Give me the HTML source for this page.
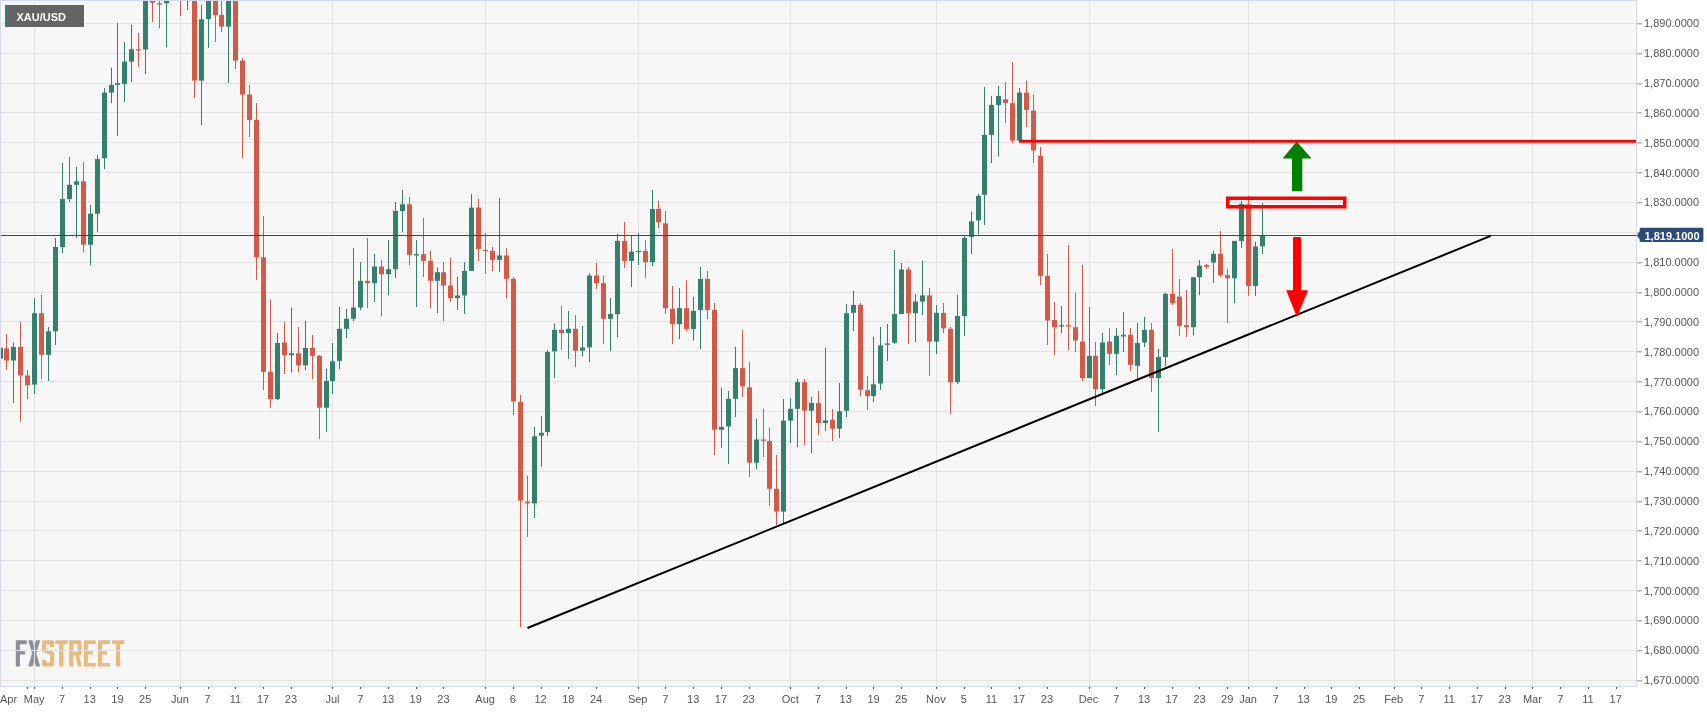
<!DOCTYPE html>
<html><head><meta charset="utf-8"><style>
html,body{margin:0;padding:0;background:#fff;}
body{width:1707px;height:712px;overflow:hidden;position:relative;font-family:"Liberation Sans",sans-serif;}
svg{position:absolute;left:0;top:0;display:block;will-change:transform}
svg text{font-family:"Liberation Sans",sans-serif;}
</style></head><body>
<svg width="1707" height="712" viewBox="0 0 1707 712" shape-rendering="crispEdges">
<rect x="0" y="0" width="1707" height="712" fill="#ffffff"/>
<rect x="0" y="0" width="1637" height="687" fill="#f7f7f7"/>

<g shape-rendering="auto">
<path fill="#8c909b" d="M15.8 640.3H26.8V644.2H19.9V651.2H24.9V654.6H19.9V666.4H15.8Z"/>
<path fill="#8c909b" d="M28.2 640.3H32.5L40.2 666.4H35.9Z M35.9 640.3H40.2L32.5 666.4H28.2Z"/>
<path fill="none" stroke="#ecb97d" stroke-width="4.1" stroke-linejoin="round" d="M52.05 647V642.35H43.95V650L52.05 653.3V664.45H43.95V659.9"/>
<path fill="#ecb97d" d="M55.3 640.3H67.7V643.9H63.4V666.4H59.1V643.9H55.3Z"/>
<path fill="#ecb97d" fill-rule="evenodd" d="M69.1 640.2H79Q81.7 640.2 81.7 643V652.6Q81.7 655.4 79 655.4L81.7 666.5H77.9L75.5 655.4H73.2V666.5H69.1Z M73.2 644H77.5V651.8H73.2Z"/>
<path fill="#ecb97d" d="M83.8 640.3H95.8V643.9H87.9V651.3H92.9V654.6H87.9V663H95.8V666.4H83.8Z"/>
<path fill="#ecb97d" d="M97.9 640.3H110.1V643.9H102.1V651.3H107V654.6H102.1V663H110.1V666.4H97.9Z"/>
<path fill="#ecb97d" d="M112 640.3H124.4V643.9H120.1V666.4H116V643.9H112Z"/>
</g>
<path d="M1 23.5H1636 M1 53.5H1636 M1 83.5H1636 M1 112.5H1636 M1 142.5H1636 M1 172.5H1636 M1 202.5H1636 M1 232.5H1636 M1 262.5H1636 M1 292.5H1636 M1 321.5H1636 M1 351.5H1636 M1 381.5H1636 M1 411.5H1636 M1 441.5H1636 M1 471.5H1636 M1 501.5H1636 M1 530.5H1636 M1 560.5H1636 M1 590.5H1636 M1 620.5H1636 M1 650.5H1636 M1 680.5H1636" stroke="#e3e3e3" stroke-width="1" fill="none"/>
<path d="M34.5 1V686 M180.5 1V686 M332.5 1V686 M485.5 1V686 M638.5 1V686 M790.5 1V686 M936.5 1V686 M1089.5 1V686 M1248.5 1V686 M1394.5 1V686 M1532.5 1V686" stroke="#e3e3e3" stroke-width="1" fill="none"/>
<path d="M0.5 0V686.5H1636.5V0" stroke="#d3d9ea" fill="none"/>
<path d="M0 0.5H1637" stroke="#d3d9ea" fill="none"/>
<path d="M0.5 341.0V385.3 M13.5 343.0V403.0 M34.5 297.5V393.6 M48.5 327.3V380.5 M55.5 238.0V345.4 M62.5 162.5V253.0 M69.5 156.5V202.4 M76.5 167.1V238.0 M90.5 204.7V264.6 M97.5 154.8V232.3 M104.5 88.3V169.1 M111.5 68.3V103.2 M117.5 23.2V135.8 M124.5 41.7V101.6 M131.5 25.3V81.6 M145.5 0.0V74.0 M166.5 0.0V46.6 M187.5 0.0V10.0 M201.5 5.0V124.8 M208.5 0.0V48.3 M228.5 0.0V83.2 M277.5 332.5V400.0 M291.5 307.5V371.5 M305.5 320.8V369.7 M326.5 368.6V431.5 M332.5 343.1V394.1 M339.5 306.5V368.6 M346.5 308.8V338.0 M353.5 247.6V320.8 M360.5 262.2V309.8 M374.5 254.2V301.5 M388.5 240.0V294.8 M395.5 202.3V278.2 M402.5 190.0V231.6 M416.5 240.0V306.5 M437.5 267.5V313.0 M457.5 276.5V309.8 M464.5 262.2V314.1 M471.5 194.3V270.9 M499.5 197.6V272.2 M534.5 426.9V518.2 M541.5 416.3V466.5 M547.5 350.0V435.6 M554.5 324.0V378.0 M568.5 310.8V358.7 M582.5 326.4V356.4 M589.5 273.2V362.0 M610.5 297.5V350.7 M617.5 234.3V337.4 M631.5 234.9V286.5 M638.5 233.3V264.9 M652.5 190.0V265.5 M679.5 288.3V338.9 M693.5 296.6V339.9 M700.5 266.6V348.8 M721.5 388.1V448.0 M728.5 390.8V464.0 M735.5 346.5V417.4 M756.5 418.7V469.0 M783.5 398.8V522.8 M790.5 398.1V443.0 M797.5 378.8V447.3 M811.5 397.4V453.0 M825.5 347.5V430.7 M839.5 383.1V438.0 M846.5 304.3V417.4 M853.5 290.5V331.2 M873.5 336.8V402.2 M880.5 326.7V390.2 M887.5 323.5V360.8 M894.5 250.0V343.5 M901.5 262.6V314.1 M915.5 294.1V341.6 M922.5 260.7V314.9 M936.5 304.8V354.2 M957.5 295.4V384.3 M964.5 236.4V336.3 M971.5 212.4V253.7 M978.5 193.8V233.7 M984.5 87.3V224.7 M991.5 95.9V162.5 M998.5 86.0V155.8 M1019.5 88.3V143.2 M1061.5 305.9V333.2 M1089.5 307.2V378.1 M1102.5 333.2V393.1 M1116.5 328.2V374.8 M1123.5 311.5V351.5 M1137.5 323.2V379.1 M1144.5 317.2V346.5 M1158.5 349.1V432.3 M1165.5 293.2V365.8 M1193.5 276.6V334.8 M1199.5 259.5V295.0 M1213.5 251.0V283.1 M1234.5 240.6V303.0 M1241.5 201.2V248.0 M1255.5 241.8V295.7 M1262.5 203.1V253.6" stroke="#33806c" stroke-width="1" fill="none"/>
<path d="M6.5 334.0V370.0 M20.5 321.5V422.0 M27.5 370.0V398.8 M41.5 294.5V378.5 M83.5 161.5V252.3 M138.5 32.7V67.3 M152.5 0.0V21.6 M159.5 0.0V28.3 M180.5 0.0V16.0 M194.5 0.0V98.2 M215.5 0.0V41.6 M221.5 0.0V31.6 M235.5 0.0V69.2 M242.5 58.3V158.0 M249.5 85.0V137.0 M256.5 102.5V280.3 M263.5 216.4V389.5 M270.5 300.2V408.4 M284.5 321.7V374.0 M298.5 327.0V372.0 M312.5 334.7V379.4 M319.5 354.7V438.6 M367.5 237.6V308.0 M381.5 259.9V316.4 M409.5 196.6V264.9 M423.5 217.6V276.5 M430.5 250.9V307.5 M443.5 261.5V321.4 M450.5 257.5V302.1 M478.5 198.5V261.0 M485.5 233.3V274.2 M492.5 246.6V270.9 M506.5 247.6V298.1 M513.5 276.5V415.3 M520.5 395.3V627.0 M527.5 476.0V536.8 M561.5 305.5V349.7 M575.5 314.8V367.4 M596.5 263.2V288.8 M603.5 275.5V344.0 M624.5 222.3V268.2 M645.5 239.9V277.5 M658.5 201.0V227.6 M665.5 211.0V314.2 M672.5 285.6V344.2 M686.5 280.0V330.9 M707.5 271.0V318.9 M714.5 303.3V455.3 M742.5 329.9V397.4 M749.5 361.5V477.2 M763.5 408.5V456.5 M769.5 427.5V506.0 M776.5 454.5V524.8 M804.5 378.8V445.3 M818.5 390.8V434.7 M832.5 408.7V440.7 M860.5 302.6V396.1 M867.5 375.5V410.2 M908.5 267.4V344.3 M929.5 288.2V375.5 M943.5 302.6V332.8 M950.5 326.7V414.2 M1005.5 81.6V122.5 M1012.5 61.6V143.2 M1026.5 80.6V127.2 M1033.5 94.9V162.5 M1040.5 146.5V284.9 M1047.5 254.3V345.0 M1054.5 301.5V354.8 M1068.5 245.0V349.8 M1075.5 293.2V351.5 M1082.5 264.9V381.4 M1095.5 341.5V405.7 M1109.5 328.2V364.8 M1130.5 328.2V371.4 M1151.5 323.2V392.4 M1172.5 249.3V304.9 M1179.5 279.3V335.8 M1186.5 289.9V337.2 M1206.5 263.5V269.2 M1220.5 231.4V276.6 M1227.5 268.5V323.2 M1248.5 196.2V295.7" stroke="#d45a47" stroke-width="1" fill="none"/>
<g fill="#33806c" shape-rendering="auto"><rect x="-2" y="348.0" width="5" height="10.6"/><rect x="11" y="347.0" width="5" height="13.5"/><rect x="32" y="313.2" width="5" height="71.4"/><rect x="46" y="331.3" width="5" height="23.5"/><rect x="53" y="247.0" width="5" height="84.3"/><rect x="60" y="199.1" width="5" height="47.9"/><rect x="67" y="184.8" width="5" height="14.3"/><rect x="74" y="181.4" width="5" height="3.4"/><rect x="88" y="213.7" width="5" height="31.0"/><rect x="95" y="159.1" width="5" height="54.6"/><rect x="102" y="92.6" width="5" height="65.5"/><rect x="109" y="84.9" width="5" height="7.7"/><rect x="115" y="83.3" width="5" height="1.6"/><rect x="122" y="61.6" width="5" height="22.3"/><rect x="129" y="49.3" width="5" height="12.3"/><rect x="143" y="0.0" width="5" height="49.5"/><rect x="164" y="0.0" width="5" height="3.3"/><rect x="199" y="19.3" width="5" height="61.3"/><rect x="206" y="0.0" width="5" height="19.0"/><rect x="226" y="0.0" width="5" height="26.6"/><rect x="275" y="342.9" width="5" height="56.1"/><rect x="289" y="353.3" width="5" height="2.0"/><rect x="303" y="348.0" width="5" height="17.3"/><rect x="324" y="381.0" width="5" height="26.7"/><rect x="330" y="361.3" width="5" height="19.7"/><rect x="337" y="328.8" width="5" height="32.1"/><rect x="344" y="318.8" width="5" height="10.0"/><rect x="351" y="307.5" width="5" height="11.3"/><rect x="358" y="280.8" width="5" height="26.7"/><rect x="372" y="266.5" width="5" height="16.7"/><rect x="386" y="269.2" width="5" height="5.0"/><rect x="393" y="211.0" width="5" height="58.2"/><rect x="400" y="204.3" width="5" height="6.7"/><rect x="414" y="254.2" width="5" height="1.3"/><rect x="435" y="272.2" width="5" height="8.6"/><rect x="455" y="295.5" width="5" height="2.6"/><rect x="462" y="270.9" width="5" height="24.6"/><rect x="469" y="207.6" width="5" height="63.3"/><rect x="497" y="255.5" width="5" height="4.4"/><rect x="532" y="436.3" width="5" height="67.1"/><rect x="539" y="432.8" width="5" height="2.8"/><rect x="545" y="352.0" width="5" height="80.1"/><rect x="552" y="329.8" width="5" height="21.6"/><rect x="566" y="328.8" width="5" height="4.2"/><rect x="580" y="347.4" width="5" height="3.3"/><rect x="587" y="275.5" width="5" height="71.9"/><rect x="608" y="314.0" width="5" height="4.8"/><rect x="615" y="240.9" width="5" height="73.1"/><rect x="629" y="251.6" width="5" height="9.3"/><rect x="636" y="250.9" width="5" height="1.2"/><rect x="650" y="209.0" width="5" height="53.2"/><rect x="677" y="308.2" width="5" height="16.0"/><rect x="691" y="310.9" width="5" height="18.0"/><rect x="698" y="279.0" width="5" height="30.9"/><rect x="719" y="427.0" width="5" height="2.7"/><rect x="726" y="398.8" width="5" height="27.6"/><rect x="733" y="368.1" width="5" height="30.7"/><rect x="754" y="439.5" width="5" height="23.2"/><rect x="781" y="420.6" width="5" height="91.0"/><rect x="788" y="408.8" width="5" height="11.8"/><rect x="795" y="382.1" width="5" height="26.7"/><rect x="809" y="403.1" width="5" height="7.6"/><rect x="823" y="420.4" width="5" height="2.6"/><rect x="837" y="411.4" width="5" height="17.3"/><rect x="844" y="313.2" width="5" height="97.5"/><rect x="851" y="304.9" width="5" height="7.9"/><rect x="871" y="384.3" width="5" height="11.8"/><rect x="878" y="345.4" width="5" height="38.1"/><rect x="885" y="343.5" width="5" height="1.3"/><rect x="892" y="314.1" width="5" height="28.6"/><rect x="899" y="269.5" width="5" height="44.6"/><rect x="913" y="301.6" width="5" height="11.7"/><rect x="920" y="295.4" width="5" height="6.2"/><rect x="934" y="312.8" width="5" height="28.8"/><rect x="955" y="316.0" width="5" height="66.2"/><rect x="962" y="238.0" width="5" height="78.0"/><rect x="969" y="221.4" width="5" height="15.6"/><rect x="976" y="195.8" width="5" height="24.6"/><rect x="982" y="134.9" width="5" height="59.9"/><rect x="989" y="104.9" width="5" height="30.0"/><rect x="996" y="95.9" width="5" height="9.0"/><rect x="1017" y="92.6" width="5" height="47.9"/><rect x="1059" y="325.2" width="5" height="1.3"/><rect x="1087" y="355.8" width="5" height="22.3"/><rect x="1100" y="342.5" width="5" height="46.6"/><rect x="1114" y="335.8" width="5" height="18.0"/><rect x="1121" y="334.8" width="5" height="1.7"/><rect x="1135" y="343.1" width="5" height="22.7"/><rect x="1142" y="329.8" width="5" height="12.7"/><rect x="1156" y="357.1" width="5" height="21.0"/><rect x="1163" y="293.9" width="5" height="63.2"/><rect x="1191" y="277.3" width="5" height="49.9"/><rect x="1197" y="265.6" width="5" height="11.4"/><rect x="1211" y="253.8" width="5" height="8.7"/><rect x="1232" y="240.9" width="5" height="37.4"/><rect x="1239" y="204.0" width="5" height="36.9"/><rect x="1253" y="246.5" width="5" height="39.4"/><rect x="1260" y="235.5" width="5" height="10.8"/></g>
<g fill="#d45a47" shape-rendering="auto"><rect x="4" y="348.5" width="5" height="12.0"/><rect x="18" y="347.0" width="5" height="28.5"/><rect x="25" y="375.5" width="5" height="9.5"/><rect x="39" y="313.2" width="5" height="41.6"/><rect x="81" y="181.4" width="5" height="63.3"/><rect x="136" y="49.3" width="5" height="1.3"/><rect x="150" y="0.0" width="5" height="2.7"/><rect x="157" y="3.3" width="5" height="1.4"/><rect x="192" y="0.0" width="5" height="80.6"/><rect x="213" y="0.0" width="5" height="15.0"/><rect x="219" y="15.0" width="5" height="11.6"/><rect x="233" y="0.0" width="5" height="60.6"/><rect x="240" y="60.6" width="5" height="33.9"/><rect x="247" y="94.5" width="5" height="25.5"/><rect x="254" y="120.0" width="5" height="137.3"/><rect x="261" y="257.3" width="5" height="114.5"/><rect x="268" y="371.8" width="5" height="27.2"/><rect x="282" y="342.5" width="5" height="12.8"/><rect x="296" y="353.3" width="5" height="12.0"/><rect x="310" y="348.0" width="5" height="7.8"/><rect x="317" y="355.8" width="5" height="51.9"/><rect x="365" y="280.8" width="5" height="2.4"/><rect x="379" y="266.5" width="5" height="7.7"/><rect x="407" y="204.3" width="5" height="50.6"/><rect x="421" y="254.2" width="5" height="6.7"/><rect x="428" y="260.9" width="5" height="19.9"/><rect x="441" y="272.2" width="5" height="13.3"/><rect x="448" y="285.5" width="5" height="12.6"/><rect x="476" y="207.6" width="5" height="41.3"/><rect x="483" y="249.9" width="5" height="1.2"/><rect x="490" y="250.9" width="5" height="9.0"/><rect x="504" y="255.5" width="5" height="23.3"/><rect x="511" y="278.8" width="5" height="122.7"/><rect x="518" y="402.0" width="5" height="98.6"/><rect x="525" y="501.7" width="5" height="1.7"/><rect x="559" y="329.8" width="5" height="3.2"/><rect x="573" y="328.8" width="5" height="21.9"/><rect x="594" y="275.5" width="5" height="7.7"/><rect x="601" y="283.2" width="5" height="35.6"/><rect x="622" y="240.9" width="5" height="20.0"/><rect x="643" y="250.9" width="5" height="11.3"/><rect x="656" y="209.0" width="5" height="13.3"/><rect x="663" y="223.3" width="5" height="84.9"/><rect x="670" y="308.9" width="5" height="15.3"/><rect x="684" y="308.2" width="5" height="20.7"/><rect x="705" y="279.0" width="5" height="30.9"/><rect x="712" y="309.9" width="5" height="119.8"/><rect x="740" y="368.1" width="5" height="18.3"/><rect x="747" y="387.4" width="5" height="75.3"/><rect x="761" y="439.5" width="5" height="1.4"/><rect x="767" y="440.9" width="5" height="47.9"/><rect x="774" y="488.8" width="5" height="22.8"/><rect x="802" y="382.1" width="5" height="28.6"/><rect x="816" y="403.1" width="5" height="19.9"/><rect x="830" y="419.7" width="5" height="9.0"/><rect x="858" y="304.9" width="5" height="84.8"/><rect x="865" y="390.2" width="5" height="5.9"/><rect x="906" y="269.5" width="5" height="43.8"/><rect x="927" y="295.4" width="5" height="46.2"/><rect x="941" y="312.8" width="5" height="15.5"/><rect x="948" y="328.8" width="5" height="53.4"/><rect x="1003" y="99.3" width="5" height="3.9"/><rect x="1010" y="103.2" width="5" height="37.3"/><rect x="1024" y="92.6" width="5" height="17.3"/><rect x="1031" y="110.6" width="5" height="39.9"/><rect x="1038" y="155.8" width="5" height="120.0"/><rect x="1045" y="275.8" width="5" height="44.7"/><rect x="1052" y="319.9" width="5" height="7.3"/><rect x="1066" y="325.2" width="5" height="1.3"/><rect x="1073" y="327.2" width="5" height="13.3"/><rect x="1080" y="341.5" width="5" height="36.6"/><rect x="1093" y="355.8" width="5" height="33.3"/><rect x="1107" y="341.5" width="5" height="12.3"/><rect x="1128" y="334.8" width="5" height="30.0"/><rect x="1149" y="329.8" width="5" height="48.3"/><rect x="1170" y="293.9" width="5" height="9.3"/><rect x="1177" y="296.6" width="5" height="29.2"/><rect x="1184" y="325.2" width="5" height="2.0"/><rect x="1204" y="265.0" width="5" height="1.8"/><rect x="1218" y="253.8" width="5" height="21.4"/><rect x="1225" y="275.2" width="5" height="3.1"/><rect x="1246" y="204.2" width="5" height="81.7"/></g>
<path d="M1 235.5H1636" stroke="#2c4a75" stroke-width="1.2" fill="none"/>
<line x1="527.5" y1="628" x2="1490.7" y2="235.9" stroke="#000" stroke-width="2" shape-rendering="auto"/>
<path d="M1293 238Q1293 237 1294 237H1300Q1301 237 1301 238V290.3H1308L1297 317.2L1286.2 290.3H1293Z" fill="#ff0000" shape-rendering="auto"/>
<polygon points="1296.7,141.5 1311.5,158.6 1302.3,158.6 1302.3,191.2 1292,191.2 1292,158.6 1282.6,158.6" fill="#008000" shape-rendering="auto"/>
<rect x="1019" y="139.8" width="617" height="2.9" fill="#ff0000" shape-rendering="auto"/>
<rect x="1227.75" y="198.25" width="117" height="8.5" fill="none" stroke="#ff0000" stroke-width="3.5" shape-rendering="auto"/>
<path d="M0 0.5H1637M0.5 0V686" stroke="#d3d9ea" fill="none"/>
<path d="M1637 23.8H1642 M1637 53.8H1642 M1637 83.8H1642 M1637 112.8H1642 M1637 142.8H1642 M1637 172.8H1642 M1637 202.8H1642 M1637 232.8H1642 M1637 262.8H1642 M1637 292.8H1642 M1637 321.8H1642 M1637 351.8H1642 M1637 381.8H1642 M1637 411.8H1642 M1637 441.8H1642 M1637 471.8H1642 M1637 501.8H1642 M1637 530.8H1642 M1637 560.8H1642 M1637 590.8H1642 M1637 620.8H1642 M1637 650.8H1642 M1637 680.8H1642" stroke="#b4b4b4" stroke-width="1.5" fill="none" shape-rendering="auto"/>
<text x="1644" y="27.20" font-size="11" fill="#555555">1,890.0000</text>
<text x="1644" y="57.06" font-size="11" fill="#555555">1,880.0000</text>
<text x="1644" y="86.92" font-size="11" fill="#555555">1,870.0000</text>
<text x="1644" y="116.78" font-size="11" fill="#555555">1,860.0000</text>
<text x="1644" y="146.64" font-size="11" fill="#555555">1,850.0000</text>
<text x="1644" y="176.50" font-size="11" fill="#555555">1,840.0000</text>
<text x="1644" y="206.36" font-size="11" fill="#555555">1,830.0000</text>
<text x="1644" y="236.22" font-size="11" fill="#555555">1,820.0000</text>
<text x="1644" y="266.08" font-size="11" fill="#555555">1,810.0000</text>
<text x="1644" y="295.94" font-size="11" fill="#555555">1,800.0000</text>
<text x="1644" y="325.80" font-size="11" fill="#555555">1,790.0000</text>
<text x="1644" y="355.66" font-size="11" fill="#555555">1,780.0000</text>
<text x="1644" y="385.52" font-size="11" fill="#555555">1,770.0000</text>
<text x="1644" y="415.38" font-size="11" fill="#555555">1,760.0000</text>
<text x="1644" y="445.24" font-size="11" fill="#555555">1,750.0000</text>
<text x="1644" y="475.10" font-size="11" fill="#555555">1,740.0000</text>
<text x="1644" y="504.96" font-size="11" fill="#555555">1,730.0000</text>
<text x="1644" y="534.82" font-size="11" fill="#555555">1,720.0000</text>
<text x="1644" y="564.68" font-size="11" fill="#555555">1,710.0000</text>
<text x="1644" y="594.54" font-size="11" fill="#555555">1,700.0000</text>
<text x="1644" y="624.40" font-size="11" fill="#555555">1,690.0000</text>
<text x="1644" y="654.26" font-size="11" fill="#555555">1,680.0000</text>
<text x="1644" y="684.12" font-size="11" fill="#555555">1,670.0000</text>
<path d="M27.5 687V689 M34.5 687V689 M62.5 687V689 M90.5 687V689 M117.5 687V689 M145.5 687V689 M180.5 687V689 M208.5 687V689 M235.5 687V689 M263.5 687V689 M291.5 687V689 M332.5 687V689 M360.5 687V689 M388.5 687V689 M416.5 687V689 M443.5 687V689 M485.5 687V689 M513.5 687V689 M541.5 687V689 M568.5 687V689 M596.5 687V689 M638.5 687V689 M665.5 687V689 M693.5 687V689 M721.5 687V689 M749.5 687V689 M790.5 687V689 M818.5 687V689 M846.5 687V689 M873.5 687V689 M901.5 687V689 M936.5 687V689 M964.5 687V689 M991.5 687V689 M1019.5 687V689 M1047.5 687V689 M1089.5 687V689 M1116.5 687V689 M1144.5 687V689 M1172.5 687V689 M1199.5 687V689 M1227.5 687V689 M1248.5 687V689 M1276.5 687V689 M1304.5 687V689 M1331.5 687V689 M1359.5 687V689 M1394.5 687V689 M1421.5 687V689 M1449.5 687V689 M1477.5 687V689 M1505.5 687V689 M1532.5 687V689 M1560.5 687V689 M1588.5 687V689 M1616.5 687V689" stroke="#555" fill="none"/>
<text x="0" y="703" font-size="11" fill="#555555">Apr</text>
<text x="34.2" y="703" font-size="11" fill="#555555" text-anchor="middle">May</text>
<text x="62.0" y="703" font-size="11" fill="#555555" text-anchor="middle">7</text>
<text x="89.7" y="703" font-size="11" fill="#555555" text-anchor="middle">13</text>
<text x="117.4" y="703" font-size="11" fill="#555555" text-anchor="middle">19</text>
<text x="145.2" y="703" font-size="11" fill="#555555" text-anchor="middle">25</text>
<text x="179.9" y="703" font-size="11" fill="#555555" text-anchor="middle">Jun</text>
<text x="207.6" y="703" font-size="11" fill="#555555" text-anchor="middle">7</text>
<text x="235.4" y="703" font-size="11" fill="#555555" text-anchor="middle">11</text>
<text x="263.1" y="703" font-size="11" fill="#555555" text-anchor="middle">17</text>
<text x="290.9" y="703" font-size="11" fill="#555555" text-anchor="middle">23</text>
<text x="332.5" y="703" font-size="11" fill="#555555" text-anchor="middle">Jul</text>
<text x="360.2" y="703" font-size="11" fill="#555555" text-anchor="middle">7</text>
<text x="388.0" y="703" font-size="11" fill="#555555" text-anchor="middle">13</text>
<text x="415.7" y="703" font-size="11" fill="#555555" text-anchor="middle">19</text>
<text x="443.4" y="703" font-size="11" fill="#555555" text-anchor="middle">23</text>
<text x="485.1" y="703" font-size="11" fill="#555555" text-anchor="middle">Aug</text>
<text x="512.8" y="703" font-size="11" fill="#555555" text-anchor="middle">6</text>
<text x="540.6" y="703" font-size="11" fill="#555555" text-anchor="middle">12</text>
<text x="568.3" y="703" font-size="11" fill="#555555" text-anchor="middle">18</text>
<text x="596.0" y="703" font-size="11" fill="#555555" text-anchor="middle">24</text>
<text x="637.7" y="703" font-size="11" fill="#555555" text-anchor="middle">Sep</text>
<text x="665.4" y="703" font-size="11" fill="#555555" text-anchor="middle">7</text>
<text x="693.2" y="703" font-size="11" fill="#555555" text-anchor="middle">13</text>
<text x="720.9" y="703" font-size="11" fill="#555555" text-anchor="middle">17</text>
<text x="748.6" y="703" font-size="11" fill="#555555" text-anchor="middle">23</text>
<text x="790.3" y="703" font-size="11" fill="#555555" text-anchor="middle">Oct</text>
<text x="818.0" y="703" font-size="11" fill="#555555" text-anchor="middle">7</text>
<text x="845.7" y="703" font-size="11" fill="#555555" text-anchor="middle">13</text>
<text x="873.5" y="703" font-size="11" fill="#555555" text-anchor="middle">19</text>
<text x="901.2" y="703" font-size="11" fill="#555555" text-anchor="middle">25</text>
<text x="935.9" y="703" font-size="11" fill="#555555" text-anchor="middle">Nov</text>
<text x="963.7" y="703" font-size="11" fill="#555555" text-anchor="middle">5</text>
<text x="991.4" y="703" font-size="11" fill="#555555" text-anchor="middle">11</text>
<text x="1019.1" y="703" font-size="11" fill="#555555" text-anchor="middle">17</text>
<text x="1046.9" y="703" font-size="11" fill="#555555" text-anchor="middle">23</text>
<text x="1088.5" y="703" font-size="11" fill="#555555" text-anchor="middle">Dec</text>
<text x="1116.3" y="703" font-size="11" fill="#555555" text-anchor="middle">7</text>
<text x="1144.0" y="703" font-size="11" fill="#555555" text-anchor="middle">13</text>
<text x="1171.7" y="703" font-size="11" fill="#555555" text-anchor="middle">17</text>
<text x="1199.5" y="703" font-size="11" fill="#555555" text-anchor="middle">23</text>
<text x="1227.2" y="703" font-size="11" fill="#555555" text-anchor="middle">29</text>
<text x="1248.0" y="703" font-size="11" fill="#555555" text-anchor="middle">Jan</text>
<text x="1275.8" y="703" font-size="11" fill="#555555" text-anchor="middle">7</text>
<text x="1303.5" y="703" font-size="11" fill="#555555" text-anchor="middle">13</text>
<text x="1331.3" y="703" font-size="11" fill="#555555" text-anchor="middle">19</text>
<text x="1359.0" y="703" font-size="11" fill="#555555" text-anchor="middle">25</text>
<text x="1393.7" y="703" font-size="11" fill="#555555" text-anchor="middle">Feb</text>
<text x="1421.4" y="703" font-size="11" fill="#555555" text-anchor="middle">7</text>
<text x="1449.2" y="703" font-size="11" fill="#555555" text-anchor="middle">11</text>
<text x="1476.9" y="703" font-size="11" fill="#555555" text-anchor="middle">17</text>
<text x="1504.7" y="703" font-size="11" fill="#555555" text-anchor="middle">23</text>
<text x="1532.4" y="703" font-size="11" fill="#555555" text-anchor="middle">Mar</text>
<text x="1560.2" y="703" font-size="11" fill="#555555" text-anchor="middle">7</text>
<text x="1587.9" y="703" font-size="11" fill="#555555" text-anchor="middle">11</text>
<text x="1615.7" y="703" font-size="11" fill="#555555" text-anchor="middle">17</text>
<path d="M1636.6 235.5L1639.6 232V229.2Q1639.6 227.8 1641 227.8H1702Q1703.4 227.8 1703.4 229.2V240.6Q1703.4 242 1702 242H1641Q1639.6 242 1639.6 240.6V239Z" fill="#2c4a75" shape-rendering="auto"/>
<text x="1644.5" y="239.5" font-size="11" font-weight="bold" fill="#ffffff">1,819.1000</text>
<rect x="4.5" y="4.5" width="80" height="23" fill="#ffffff" fill-opacity="0.6"/>
<rect x="5" y="5" width="79" height="22" fill="#535353" fill-opacity="0.9"/>
<rect x="5" y="5" width="3" height="22" fill="#33806c"/>
<text x="16.5" y="21" font-size="11" font-weight="bold" fill="#ffffff">XAU/USD</text>
</svg></body></html>
